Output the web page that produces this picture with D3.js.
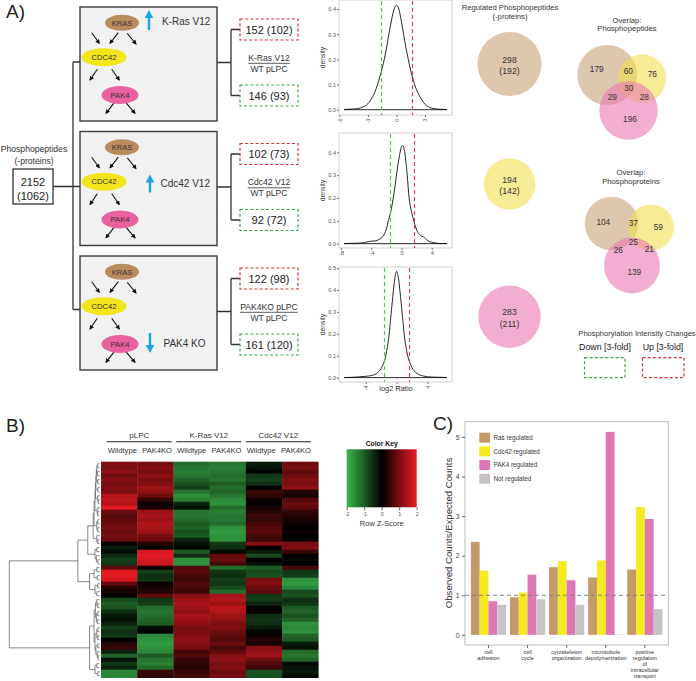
<!DOCTYPE html>
<html><head><meta charset="utf-8">
<script src="https://cdn.jsdelivr.net/npm/d3@7"></script>
<style>body{margin:0;background:#fff}svg{display:block}text{font-family:"Liberation Sans",Arial,Helvetica,sans-serif}</style>
</head><body><svg id="c" width="696" height="681"></svg>
<script>
// ---------------- DATA ----------------
const conditions = ["K-Ras V12", "Cdc42 V12", "PAK4 KO"];
const conditionDirection = ["up", "up", "down"];
const genes = ["KRAS", "CDC42", "PAK4"];
const ratioNumerators = ["K-Ras V12", "Cdc42 V12", "PAK4KO pLPC"];
const ratioDenominator = "WT pLPC";
const totalCounts = [2152, 1062];
const upPeptides = [152, 102, 122];
const upProteins = [102, 73, 98];
const downPeptides = [146, 92, 161];
const downProteins = [93, 72, 120];

const densityX1 = [-5.5,-5,-4.5,-4,-3.5,-3,-2.5,-2,-1.75,-1.5,-1.25,-1,-0.75,-0.5,-0.25,0,0.25,0.5,0.75,1,1.25,1.5,1.75,2,2.5,3,3.5,4,4.5,5,5.3];
const densityY1 = [0.001,0.002,0.003,0.005,0.011,0.024,0.052,0.098,0.13,0.165,0.205,0.255,0.31,0.36,0.4,0.415,0.4,0.355,0.3,0.245,0.2,0.155,0.12,0.09,0.05,0.022,0.009,0.004,0.002,0.001,0.0005];
const densityX2 = [-7.6,-7,-6,-5,-4.5,-4,-3.5,-3,-2.5,-2,-1.75,-1.5,-1.25,-1,-0.75,-0.5,-0.25,0,0.15,0.3,0.5,0.75,1,1.25,1.5,1.75,2,2.25,2.5,2.9,3.2,3.5,4,4.5,5,6];
const densityY2 = [0.0005,0.001,0.002,0.004,0.008,0.011,0.012,0.018,0.03,0.065,0.1,0.13,0.17,0.22,0.28,0.34,0.39,0.425,0.43,0.42,0.38,0.3,0.2,0.15,0.115,0.085,0.06,0.045,0.035,0.03,0.022,0.012,0.006,0.003,0.001,0.0005];
const densityX3 = [-6.8,-6,-5,-4,-3.5,-3,-2.5,-2,-1.75,-1.5,-1.25,-1,-0.75,-0.5,-0.25,0,0.25,0.5,0.75,1,1.25,1.5,1.75,2,2.5,3,3.5,4,5,6,6.5];
const densityY3 = [0.0005,0.001,0.003,0.006,0.008,0.012,0.022,0.042,0.06,0.085,0.13,0.19,0.28,0.37,0.45,0.485,0.45,0.37,0.28,0.19,0.13,0.09,0.065,0.045,0.022,0.012,0.007,0.004,0.002,0.001,0.0005];
const densityXTicks = [[-6,-3,0,3], [-8,-4,0,4], [-4,0,4]];
const densityYTicks = [[0,0.1,0.2,0.3,0.4], [0,0.1,0.2,0.3,0.4], [0,0.1,0.2,0.3,0.4,0.5]];
const foldThreshold = 3;

const regulatedPeptides = [298, 194, 283];
const regulatedProteins = [192, 142, 211];
const vennRegions = ["R", "RC", "C", "RCP", "RP", "CP", "P"];
const vennPeptides = [179, 60, 76, 30, 29, 28, 196];
const vennProteins = [104, 37, 59, 25, 26, 21, 139];

const heatGroups = ["pLPC", "K-Ras V12", "Cdc42 V12"];
const heatSubgroups = ["Wildtype", "PAK4KO"];
const heatValues = [
 [1.1,1.0,-1.2,-1.3,-0.3,0.9],[1.0,1.1,-1.3,-1.4,-0.2,1.0],[1.2,1.0,-1.4,-1.3,0.0,0.8],[0.9,1.2,-1.3,-1.2,-0.6,0.9],
 [1.1,1.0,-1.1,-1.3,-0.7,1.1],[1.0,1.1,-0.9,-1.0,-0.5,1.0],[1.1,1.3,-0.7,-1.2,0.0,1.2],[1.0,1.2,-1.3,-1.1,0.5,0.3],
 [1.5,0.9,-1.6,-1.3,0.4,0.2],[1.6,0.4,-1.4,-1.5,0.1,0.7],[1.5,0.1,-0.4,-1.6,0.0,0.9],[1.9,0.2,-0.2,-1.2,0.2,0.8],
 [0.9,1.3,-1.3,-1.4,0.3,0.4],[0.7,1.4,-1.3,-1.3,0.5,0.3],[0.8,1.3,-1.2,-1.3,0.4,0.2],[0.9,1.5,-1.0,-1.2,0.6,0.1],
 [1.0,1.4,-1.1,-1.6,0.7,0.0],[0.9,1.3,-0.9,-1.7,0.8,0.1],[1.0,1.0,-1.0,-1.6,0.6,0.0],[0.9,0.9,-0.4,-1.6,0.5,0.1],
 [0.1,0.3,-0.2,-0.6,1.1,1.0],[-0.3,-0.1,-0.1,-0.5,0.1,1.1],[-0.1,1.8,-1.0,-0.1,-0.3,0.5],[-0.5,1.9,-0.5,0.8,-0.8,0.0],
 [-0.7,1.8,-1.6,0.9,0.0,-0.1],[-0.6,1.7,-1.6,0.6,-0.2,0.0],[0.8,0.1,0.7,-1.2,-1.0,0.6],[1.9,-0.7,0.8,-0.6,-0.8,-0.6],
 [1.9,-0.5,0.6,-0.5,-0.9,-0.7],[1.8,-0.6,0.5,-0.7,1.0,-1.6],[0.8,0.1,0.7,-0.6,1.1,-1.7],[0.3,0.2,0.6,-0.8,0.9,-1.5],
 [0.2,0.3,0.5,-1.2,0.8,-0.8],[0.0,0.8,1.1,1.4,-0.6,-0.9],[-0.8,-0.6,1.3,1.5,-0.7,-0.5],[-1.0,-0.7,1.4,1.3,-0.4,-0.6],
 [-0.9,-1.2,1.3,1.6,0.0,-1.0],[-0.5,-1.3,1.2,1.5,0.1,-1.1],[-0.3,-1.2,1.4,1.3,-0.5,-0.9],[-0.2,-1.1,1.3,1.2,-0.6,-1.1],
 [-0.4,-1.0,1.2,1.0,-0.5,-1.6],[-0.7,-0.1,1.0,1.1,-0.3,-1.5],[-0.5,0.0,1.0,0.9,-0.1,-1.6],[-0.6,-1.5,1.1,0.8,0.1,-1.1],
 [0.0,-1.6,1.2,0.7,0.3,-1.0],[0.3,-1.7,1.1,0.9,0.2,-0.3],[0.5,-1.6,1.0,0.6,1.1,-0.2],[-0.4,-1.5,0.6,0.8,1.2,-1.2],
 [-1.1,-1.0,0.7,1.1,1.3,-1.3],[-0.2,-1.3,0.5,1.2,0.9,-1.1],[-0.6,-1.4,0.4,1.0,0.7,-0.1],[-0.4,-1.2,0.3,1.1,0.5,-0.2],
 [-1.5,0.5,0.5,0.9,-0.9,-0.3],[-1.5,0.4,0.6,1.0,-0.9,-0.1]
];
// dendrogram: [height, left, right], leaves = row index
const rowDendrogram = [1.0,
  [0.24,
    [0.13,
      [0.07,
        [0.06,
          [0.05,
            [0.045,
              [0.04,
                [0.035,[0.03,[0.02,0,1],[0.025,2,3]],[0.02,4,5]],
                [0.02,6,7]],
              [0.02,8,[0.015,9,10]]],
            [0.025,11,[0.02,12,13]]],
          [0.03,[0.02,14,15],[0.02,16,17]]],
        [0.03,18,[0.02,19,20]]],
      [0.05,[0.03,21,22],[0.035,23,[0.02,24,25]]]],
    [0.11,
      [0.06,[0.03,26,27],[0.025,28,29]],
      [0.05,[0.02,30,31],[0.03,32,33]]]],
  [0.11,
    [0.06,
      [0.045,[0.03,34,[0.02,35,36]],[0.035,[0.02,37,38],[0.025,39,40]]],
      [0.05,[0.03,[0.02,41,42],[0.02,43,44]],[0.04,[0.02,45,46],[0.025,47,[0.015,48,49]]]]],
    [0.05,[0.03,50,51],[0.02,52,53]]]];
const zScoreTicks = [-2, -1, 0, 1, 2];

const goTerms = ["cell adhesion", "cell cycle", "cytoskeleton organization", "microtubule depolymerization", "positive regulation of intracellular transport"];
const barSeries = ["Ras regulated", "Cdc42 regulated", "PAK4 regulated", "Not regulated"];
const rasValues = [2.35, 0.95, 1.71, 1.45, 1.65];
const cdc42Values = [1.62, 1.07, 1.86, 1.88, 3.23];
const pak4Values = [0.85, 1.52, 1.38, 5.13, 2.93];
const notRegValues = [0.76, 0.90, 0.76, 0.01, 0.65];
const barYTicks = [0, 1, 2, 3, 4, 5];

// ---------------- DRAW ----------------
const svg = d3.select("#c");
function T(g, x, y, s, size, o = {}) {
  return g.append("text").attr("x", x).attr("y", y).text(s)
    .attr("font-size", size).attr("text-anchor", o.anchor || "middle")
    .attr("fill", o.fill || "#222").attr("font-weight", o.weight || null);
}
const defs = svg.append("defs");
defs.append("marker").attr("id", "ah").attr("viewBox", "0 0 10 10").attr("refX", 8).attr("refY", 5)
  .attr("markerWidth", 4.2).attr("markerHeight", 4.2).attr("orient", "auto")
  .append("path").attr("d", "M0,0L10,5L0,10z").attr("fill", "#111");

T(svg, 6, 18, "A)", 19, {anchor: "start"});
T(svg, 6, 432, "B)", 19, {anchor: "start"});
T(svg, 433, 430, "C)", 19, {anchor: "start"});

// ===== Panel A: diagram =====
const A = svg.append("g");
T(A, 34, 152, "Phosphopeptides", 8.6, {fill: "#333"});
T(A, 34, 164, "(-proteins)", 8.6, {fill: "#333"});
A.append("rect").attr("x", 13).attr("y", 169).attr("width", 40).attr("height", 35).attr("fill", "#fff").attr("stroke", "#333").attr("stroke-width", 1.3);
T(A, 33, 185.5, String(totalCounts[0]), 11, {fill: "#222"});
T(A, 33, 200, "(" + totalCounts[1] + ")", 11, {fill: "#222"});

const boxTops = [7, 131.5, 256];
const boxX = 80, boxW = 137, boxH = 114;
const geneFill = {KRAS: "#b98b5d", CDC42: "#f3e51c", PAK4: "#e9619f"};
const geneLayout = {KRAS: [122, 15.8, 17, 8], CDC42: [104, 50.2, 22.5, 9], PAK4: [120, 88, 18.5, 9]};
const smallArrows = [[91.7,25.7,99.3,36.3],[118.3,25.7,110,36.3],[127.3,26.3,136,37],[97.3,62.3,90,73],[111.7,62.3,119.3,73],[115,94.7,106,106.3],[125,94.7,135,106.3]];
const blueArrows = {up: [[149, 23, 149, 3], [150, 61, 150, 43], null], down: [null, null, [150, 77, 150, 97]]};
const condLabelPos = [[162, 17.5], [160.5, 55.5], [163.5, 90.5]];

A.append("path").attr("d", `M53,186.5H${boxX}M73,${boxTops[0]+55}V${boxTops[2]+53.5}M73,${boxTops[0]+55}H${boxX}M73,${boxTops[2]+53.5}H${boxX}`)
  .attr("stroke", "#333").attr("stroke-width", 1.3).attr("fill", "none");

conditions.forEach((cond, i) => {
  const bt = boxTops[i];
  const g = A.append("g");
  g.append("rect").attr("x", boxX).attr("y", bt).attr("width", boxW).attr("height", boxH)
    .attr("fill", "#f1f1f1").attr("stroke", "#3a3a3a").attr("stroke-width", 1.4);
  smallArrows.forEach(a => g.append("line").attr("x1", a[0]).attr("y1", bt + a[1]).attr("x2", a[2]).attr("y2", bt + a[3])
    .attr("stroke", "#111").attr("stroke-width", 1.1).attr("marker-end", "url(#ah)"));
  genes.forEach(gn => {
    const L = geneLayout[gn];
    g.append("ellipse").attr("cx", L[0]).attr("cy", bt + L[1]).attr("rx", L[2]).attr("ry", L[3]).attr("fill", geneFill[gn]);
    T(g, L[0], bt + L[1] + 2.7, gn, 7.6, {fill: "#3a3030"});
  });
  const dir = conditionDirection[i];
  const b = blueArrows[dir][i];
  const sgn = dir === "up" ? -1 : 1;
  g.append("line").attr("x1", b[0]).attr("y1", bt + b[1]).attr("x2", b[2]).attr("y2", bt + b[3] - sgn * 6)
    .attr("stroke", "#1ca5e3").attr("stroke-width", 2.4);
  const tipY = bt + b[3];
  g.append("path").attr("d", `M${b[0]},${tipY}L${b[0]-4.3},${tipY - sgn*8}L${b[0]+4.3},${tipY - sgn*8}Z`).attr("fill", "#1ca5e3");
  T(g, condLabelPos[i][0], bt + condLabelPos[i][1], cond, 10, {anchor: "start", fill: "#333"});
  g.append("path").attr("d", `M${boxX+boxW},${bt+55.5}H231M231,${bt+22.5}V${bt+88.5}M231,${bt+22.5}H240M231,${bt+88.5}H240`)
    .attr("stroke", "#333").attr("stroke-width", 1.3).attr("fill", "none");
  g.append("rect").attr("x", 240).attr("y", bt + 12).attr("width", 58).attr("height", 21)
    .attr("fill", "none").attr("stroke", "#d8323a").attr("stroke-width", 1.2).attr("stroke-dasharray", "3,2.2");
  g.append("rect").attr("x", 240).attr("y", bt + 78).attr("width", 58).attr("height", 21)
    .attr("fill", "none").attr("stroke", "#3aa846").attr("stroke-width", 1.2).attr("stroke-dasharray", "3,2.2");
  T(g, 269, bt + 26.5, `${upPeptides[i]} (${upProteins[i]})`, 11, {fill: "#222"});
  T(g, 269, bt + 92.5, `${downPeptides[i]} (${downProteins[i]})`, 11, {fill: "#222"});
  const n = T(g, 269, bt + 53.5, ratioNumerators[i], 8.6, {fill: "#333"});
  const d = T(g, 269, bt + 64.8, ratioDenominator, 8.6, {fill: "#333"});
  const w = Math.max(n.node().getComputedTextLength(), d.node().getComputedTextLength());
  g.append("line").attr("x1", 269 - w / 2).attr("x2", 269 + w / 2).attr("y1", bt + 56.3).attr("y2", bt + 56.3)
    .attr("stroke", "#333").attr("stroke-width", 0.8);
});

// ===== density plots =====
const thr = Math.log2(foldThreshold);
const densSets = [
  {xs: densityX1, ys: densityY1, top: 0, yDom: [-0.021, 0.436], rot: true},
  {xs: densityX2, ys: densityY2, top: 133, yDom: [-0.019, 0.4845], rot: false},
  {xs: densityX3, ys: densityY3, top: 267, yDom: [-0.02, 0.505], rot: true}
];
const threshLines = [];
densSets.forEach((ds, i) => {
  const g = svg.append("g");
  const lo = d3.min(ds.xs), hi = d3.max(ds.xs), ex = (hi - lo) * 0.05;
  const x = d3.scaleLinear().domain([lo - ex, hi + ex]).range([339, 452]);
  const y = d3.scaleLinear().domain(ds.yDom).range([ds.top + 115, ds.top]);
  g.append("rect").attr("x", 339).attr("y", ds.top).attr("width", 113).attr("height", 115)
    .attr("fill", "#fff").attr("stroke", "#c4c4c4").attr("stroke-width", 0.8);
  const ya = g.append("g").attr("transform", "translate(339,0)")
    .call(d3.axisLeft(y).tickValues(densityYTicks[i]).tickSize(2).tickFormat(d3.format(".1f")));
  const xa = g.append("g").attr("transform", `translate(0,${ds.top + 115})`)
    .call(d3.axisBottom(x).tickValues(densityXTicks[i]).tickSize(2).tickFormat(v => String(v)));
  [ya, xa].forEach(a => {
    a.select(".domain").remove();
    a.selectAll(".tick line").style("stroke", "#777");
    a.selectAll("text").attr("font-size", 5.6).attr("fill", "#555").attr("font-family", '"Liberation Sans",Arial,sans-serif');
  });
  ya.selectAll("text").attr("x", -3);
  if (ds.rot) {
    xa.selectAll("text").attr("transform", "rotate(-90)").attr("text-anchor", "end").attr("x", -3.5).attr("y", 0).attr("dy", "0.35em");
  } else {
    xa.selectAll("text").attr("y", 3.5);
  }
  const pts = ds.xs.map((v, k) => [v, ds.ys[k]]);
  g.append("path").datum(pts).style("fill", "none").style("stroke", "#111").style("stroke-width", 0.9)
    .attr("d", d3.line().x(p => x(p[0])).y(p => y(p[1])).curve(d3.curveMonotoneX));
  g.append("path").attr("d", `M${x(lo)},${y(0)}H${x(hi)}`).style("stroke", "#111").style("stroke-width", 0.9);
  threshLines.push({x: Math.round(x(-thr)) + 0.5, top: ds.top, c: "#5cbf55"});
  threshLines.push({x: Math.round(x(thr)) + 0.5, top: ds.top, c: "#e0424e"});
  g.append("text").attr("transform", `translate(325,${ds.top + 57.5}) rotate(-90)`).attr("text-anchor", "middle")
    .attr("font-size", 6.8).attr("fill", "#333").text("density");
});
T(svg, 396, 391, "log2 Ratio", 7.4, {fill: "#333"});

// ===== Venn area =====
const V = svg.append("g");
const cols = ["#c8a27a", "#f0e050", "#eb77b3"];
T(V, 510, 10, "Regulated Phosphopeptides", 7.7, {fill: "#333"});
T(V, 510, 19.3, "(-proteins)", 7.7, {fill: "#333"});
const rS = d3.scaleSqrt().domain([0, d3.max(regulatedPeptides)]).range([0, 32]);
const singleCY = [64, 184, 316.7];
regulatedPeptides.forEach((v, i) => {
  V.append("circle").attr("cx", 509.5).attr("cy", singleCY[i]).attr("r", rS(v)).attr("fill", cols[i]).attr("fill-opacity", 0.6);
  T(V, 509.5, singleCY[i] - 1.5, String(v), 8.7, {fill: "#333"});
  T(V, 509.5, singleCY[i] + 10.3, "(" + regulatedProteins[i] + ")", 8.7, {fill: "#333"});
});
function venn(vals, centers, rmax, labelPos) {
  const totals = [
    vals[0] + vals[1] + vals[3] + vals[4],
    vals[1] + vals[2] + vals[3] + vals[5],
    vals[3] + vals[4] + vals[5] + vals[6]
  ];
  const s = d3.scaleSqrt().domain([0, d3.max(totals)]).range([0, rmax]);
  totals.forEach((t, i) => V.append("circle").attr("cx", centers[i][0]).attr("cy", centers[i][1]).attr("r", s(t))
    .attr("fill", cols[i]).attr("fill-opacity", 0.6));
  vals.forEach((v, k) => T(V, labelPos[k][0], labelPos[k][1] + 3, String(v), 8.3, {fill: "#333"}));
}
T(V, 627, 22.5, "Overlap:", 7.7, {fill: "#333"});
T(V, 627, 31.2, "Phosphopeptides", 7.7, {fill: "#333"});
venn(vennPeptides, [[607.3, 75], [642, 78.5], [628.5, 110.5]], 30,
  [[596.7, 69], [628.3, 71], [652.3, 74], [628.7, 88], [612.3, 97], [644.3, 97], [630, 119]]);
T(V, 631, 175.3, "Overlap:", 7.7, {fill: "#333"});
T(V, 631, 184.3, "Phosphoproteins", 7.7, {fill: "#333"});
venn(vennProteins, [[611.5, 223.5], [651, 227.5], [632, 265.5]], 28,
  [[603.3, 221.7], [633.3, 223.3], [658.3, 226.7], [633.3, 241.7], [618.3, 250], [649.3, 249], [634.3, 271.7]]);
T(V, 637, 336, "Phosphorylation Intensity Changes", 7.6, {fill: "#333"});
T(V, 605, 350, "Down [" + foldThreshold + "-fold]", 8.8, {fill: "#222"});
T(V, 663, 350, "Up [" + foldThreshold + "-fold]", 8.8, {fill: "#222"});
V.append("rect").attr("x", 584.5).attr("y", 357.7).attr("width", 40.5).attr("height", 20).attr("fill", "none")
  .attr("stroke", "#3aa846").attr("stroke-width", 1.2).attr("stroke-dasharray", "3,2.2");
V.append("rect").attr("x", 642.5).attr("y", 357.7).attr("width", 41.5).attr("height", 20).attr("fill", "none")
  .attr("stroke", "#d8323a").attr("stroke-width", 1.2).attr("stroke-dasharray", "3,2.2");

// ===== Panel B: heatmap =====
const B = svg.append("g");
const nCols = heatGroups.length * heatSubgroups.length;
const hx = d3.scaleBand().domain(d3.range(nCols)).range([101, 318.3]);
const hy = d3.scaleBand().domain(d3.range(heatValues.length)).range([461.7, 677.7]);
const hcol = d3.scaleLinear().domain([-2, 0, 2]).range(["#3ab54a", "#000000", "#ee1c24"]).clamp(true);
heatValues.forEach((row, r) => row.forEach((v, c) => {
  B.append("rect").attr("x", hx(c)).attr("y", hy(r)).attr("width", hx.bandwidth() + 0.3).attr("height", hy.bandwidth() + 0.3)
    .attr("fill", hcol(v));
}));
const subLabelX = d3.scalePoint().domain(d3.range(nCols)).range([122.3, 296]);
const groupLabelX = d3.scalePoint().domain(heatGroups).range([139.3, 278.3]);
heatGroups.forEach((gname, gi) => {
  const gx = groupLabelX(gname);
  T(B, gx, 437.5, gname, 8, {fill: "#333"});
  B.append("line").attr("x1", gx - 32.5).attr("x2", gx + 32.5).attr("y1", 441.7).attr("y2", 441.7).attr("stroke", "#222").attr("stroke-width", 1.1);
  heatSubgroups.forEach((s, si) => T(B, subLabelX(gi * 2 + si), 452.5, s, 7.6, {fill: "#333"}));
});
const dx = d3.scaleLinear().domain([0, rowDendrogram[0]]).range([99.5, 9.3]);
function layoutNode(n) {
  if (typeof n === "number") return {h: 0, y: hy(n) + hy.bandwidth() / 2};
  const a = layoutNode(n[1]), b = layoutNode(n[2]);
  const y = (a.y + b.y) / 2;
  B.append("path").attr("d", `M${dx(a.h)},${a.y}H${dx(n[0])}V${b.y}H${dx(b.h)}`)
    .attr("fill", "none").attr("stroke", "#555").attr("stroke-width", 0.7);
  return {h: n[0], y: y};
}
layoutNode(rowDendrogram);
const kx = d3.scaleLinear().domain([-2, 2]).range([346.7, 416.7]);
const grad = defs.append("linearGradient").attr("id", "kg");
d3.range(0, 1.0001, 0.05).forEach(t => grad.append("stop").attr("offset", t).attr("stop-color", hcol(-2 + 4 * t)));
T(B, 381.7, 445.7, "Color Key", 6.8, {fill: "#111", weight: "bold"});
B.append("rect").attr("x", kx(-2)).attr("y", 449.3).attr("width", kx(2) - kx(-2)).attr("height", 58).attr("fill", "url(#kg)");
const ka = B.append("g").attr("transform", "translate(0,507.3)").call(d3.axisBottom(kx).tickValues(zScoreTicks).tickSize(3).tickFormat(v => String(v)));
ka.select(".domain").remove();
ka.selectAll(".tick line").style("stroke", "#666");
ka.selectAll("text").attr("font-size", 5.2).attr("fill", "#555").attr("y", 5).attr("font-family", '"Liberation Sans",Arial,sans-serif');
T(B, 381.7, 526, "Row Z-Score", 7.5, {fill: "#333"});

// ===== Panel C: bar chart =====
const C = svg.append("g");
const cL = 465, cR = 668.3, cT = 421.7, cB = 645;
const cx = d3.scaleBand().domain(goTerms).range([cL, cR]).paddingInner(0.1).paddingOuter(0.15);
const sx = d3.scaleBand().domain(barSeries).range([0, cx.bandwidth()]);
const cy = d3.scaleLinear().domain([-0.2565, 5.3865]).range([cB, cT]);
const barColors = d3.scaleOrdinal().domain(barSeries).range(["#c49a6b", "#f5ea1f", "#dd78b5", "#c6c2c6"]);
const seriesValues = [rasValues, cdc42Values, pak4Values, notRegValues];
C.append("rect").attr("x", cL).attr("y", cT).attr("width", cR - cL).attr("height", cB - cT).attr("fill", "#fff");
goTerms.forEach((t, ti) => barSeries.forEach((s, si) => {
  const v = seriesValues[si][ti];
  C.append("rect").attr("x", cx(t) + sx(s)).attr("y", cy(v)).attr("width", sx.bandwidth()).attr("height", cy(0) - cy(v))
    .attr("fill", barColors(s));
}));
C.append("line").attr("x1", cL).attr("x2", cR).attr("y1", cy(1)).attr("y2", cy(1)).attr("stroke", "#777").attr("stroke-width", 0.9).attr("stroke-dasharray", "4,3");
C.append("rect").attr("x", cL).attr("y", cT).attr("width", cR - cL).attr("height", cB - cT).attr("fill", "none").attr("stroke", "#b5b5b5").attr("stroke-width", 0.9);
const cya = C.append("g").attr("transform", `translate(${cL},0)`).call(d3.axisLeft(cy).tickValues(barYTicks).tickSize(3).tickFormat(d3.format("d")));
cya.select(".domain").remove();
cya.selectAll(".tick line").style("stroke", "#666");
cya.selectAll("text").attr("font-size", 6.8).attr("fill", "#444").attr("x", -5.5).attr("font-family", '"Liberation Sans",Arial,sans-serif');
const cxa = C.append("g").attr("transform", `translate(0,${cB})`).call(d3.axisBottom(cx).tickSize(3).tickFormat(""));
cxa.select(".domain").remove();
cxa.selectAll(".tick line").style("stroke", "#666");
goTerms.forEach(t => {
  const tx = C.append("text").attr("text-anchor", "middle").attr("font-size", 5.5).attr("fill", "#333");
  t.split(" ").forEach((w, k) => tx.append("tspan").attr("x", cx(t) + cx.bandwidth() / 2).attr("y", 653.5 + k * 6.1).text(w));
});
C.append("text").attr("transform", `translate(452,533) rotate(-90)`).attr("text-anchor", "middle")
  .attr("font-size", 9.6).attr("fill", "#333").text("Observed Counts/Expected Counts");
barSeries.forEach((s, k) => {
  const ly = 432.7 + k * 13.7;
  C.append("rect").attr("x", 479.3).attr("y", ly).attr("width", 10.7).attr("height", 10).attr("fill", barColors(s));
  T(C, 493.5, ly + 7.3, s, 6.3, {anchor: "start", fill: "#333"});
});

// threshold dashed lines drawn last (on top)
const TL = svg.append("g");
threshLines.forEach(l => {
  d3.range(l.top + 1, l.top + 114, 7).forEach(y0 => {
    TL.append("rect").attr("x", l.x - 0.6).attr("y", y0).attr("width", 1.2).attr("height", Math.min(4, l.top + 115 - y0))
      .attr("fill", l.c);
  });
});
</script></body></html>
